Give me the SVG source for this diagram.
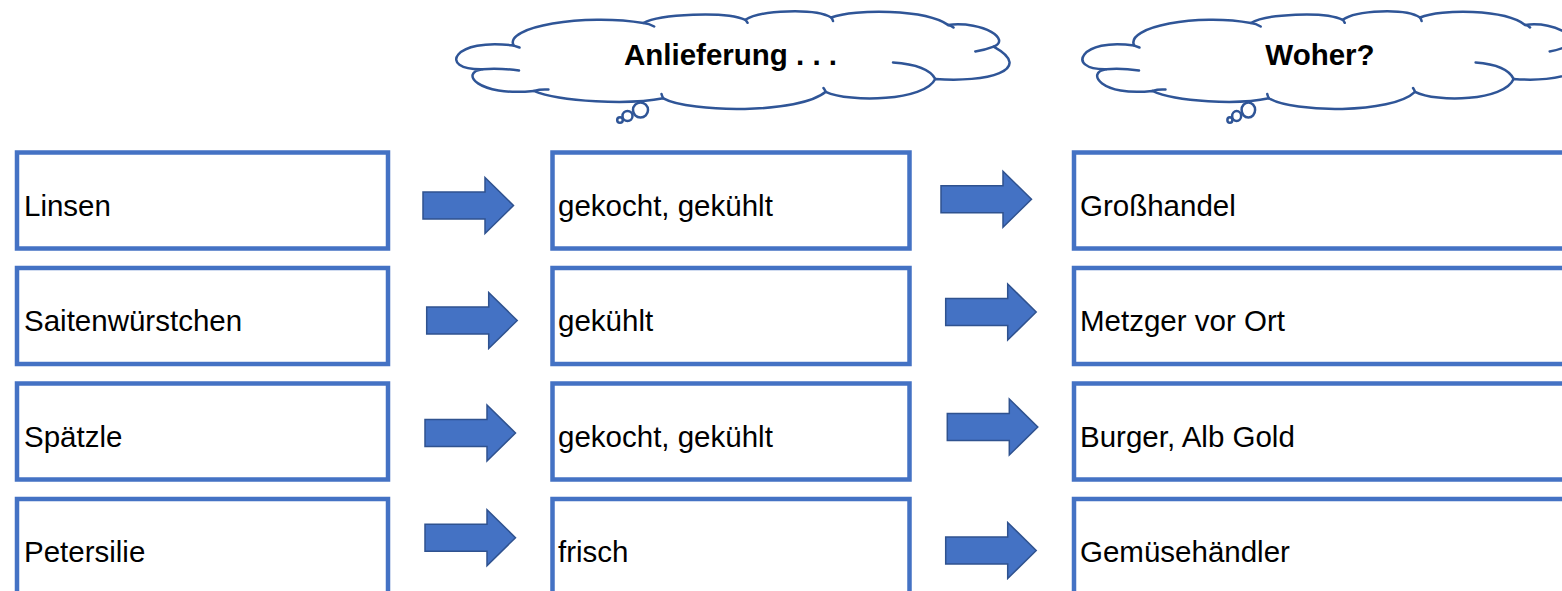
<svg xmlns="http://www.w3.org/2000/svg" xmlns:xlink="http://www.w3.org/1999/xlink" width="1562" height="591" viewBox="0 0 1562 591">
  <defs>
    <style>
      .box { fill: #ffffff; stroke: #4472C4; stroke-width: 4.5; }
      .txt { font-family: "Liberation Sans", Arial, sans-serif; font-size: 29.5px; fill: #000000; }
      .title { font-family: "Liberation Sans", Arial, sans-serif; font-size: 29.5px; font-weight: bold; fill: #000000; text-anchor: middle; }
      .cloud { fill: #ffffff; stroke: #2F5597; stroke-width: 2.5; vector-effect: non-scaling-stroke; stroke-linejoin: round; }
      .cloud-line { fill: none; stroke: #2F5597; stroke-width: 2.5; vector-effect: non-scaling-stroke; stroke-linecap: round; }
      .arrow { fill: #4472C4; stroke: #2F528F; stroke-width: 1.5; stroke-linejoin: miter; }
    </style>
    <!-- thought cloud: outline, inner lobe strokes and trailing bubbles -->
    <g id="cloud-shape">
      <path class="cloud" d="M513.7,45.6 C503,27 585,13 643.3,23 C660,14 725,11 745.4,19.8 C760,10 815,8 831.2,17.5 C855,9 925,9 948,24.9 C985,21 1011,40 993.6,46.6 C1036,70 986,83 935.2,78.9 C925,101 850,103 825.7,91.8 C800,114 690,113 663.3,98.3 C630,105 560,102 533.8,90.9 C477,97 459,72 482.7,69.2 C436,70 454,37 513.7,45.6 Z"/>
      <path class="cloud-line" d="M513.7,45.6 L519.5,47.5 M482.7,69.2 Q500,68 519,70.5 M533.8,90.9 Q541,89 548.4,89.6 M663.3,98.3 Q662,96 661.5,94 M825.7,91.8 Q825,90 823.5,88 M935.2,78.9 Q928,65 893,62.5 M993.6,46.6 Q985,50 975.3,51.4 M948,24.9 Q951,25.5 953.5,27.5 M831.2,17.5 Q832.5,19 833,21 M745.4,19.8 Q746.5,21 747.6,22.8 M643.3,23 Q649,23.5 654.2,26.5"/>
      <ellipse class="cloud" cx="640.5" cy="110" rx="7.5" ry="7.5"/>
      <ellipse class="cloud" cx="627.5" cy="116" rx="5" ry="5"/>
      <ellipse class="cloud" cx="620" cy="120" rx="2.8" ry="2.8"/>
    </g>
    <!-- block arrow, origin at the left end of the shaft centre line -->
    <path id="block-arrow" d="M0,-13.5 H62 V-28 L90.5,0 L62,28 V13.5 H0 Z"/>
  </defs>

  <!-- header clouds -->
  <g id="cloud-delivery">
    <use xlink:href="#cloud-shape"/>
    <text class="title" x="730.5" y="64.5">Anlieferung . . .</text>
  </g>
  <g id="cloud-origin">
    <use xlink:href="#cloud-shape" transform="translate(1085 0) scale(0.9 1) translate(-459 0)"/>
    <text class="title" x="1320" y="64.5">Woher?</text>
  </g>

  <!-- column 1: products -->
  <g id="item-linsen">
    <rect class="box" x="17" y="152.5" width="371" height="96"/>
    <text class="txt" x="24" y="216">Linsen</text>
  </g>
  <g id="item-saitenwuerstchen">
    <rect class="box" x="17" y="268" width="371" height="96"/>
    <text class="txt" x="24" y="331">Saitenwürstchen</text>
  </g>
  <g id="item-spaetzle">
    <rect class="box" x="17" y="383.5" width="371" height="96"/>
    <text class="txt" x="24" y="446.5">Spätzle</text>
  </g>
  <g id="item-petersilie">
    <rect class="box" x="17" y="499" width="371" height="96"/>
    <text class="txt" x="24" y="562">Petersilie</text>
  </g>

  <!-- column 2: delivery state -->
  <g id="delivery-linsen">
    <rect class="box" x="552.5" y="152.5" width="357" height="96"/>
    <text class="txt" x="558" y="216">gekocht, gekühlt</text>
  </g>
  <g id="delivery-saitenwuerstchen">
    <rect class="box" x="552.5" y="268" width="357" height="96"/>
    <text class="txt" x="558" y="331">gekühlt</text>
  </g>
  <g id="delivery-spaetzle">
    <rect class="box" x="552.5" y="383.5" width="357" height="96"/>
    <text class="txt" x="558" y="446.5">gekocht, gekühlt</text>
  </g>
  <g id="delivery-petersilie">
    <rect class="box" x="552.5" y="499" width="357" height="96"/>
    <text class="txt" x="558" y="562">frisch</text>
  </g>

  <!-- column 3: source -->
  <g id="source-linsen">
    <rect class="box" x="1074" y="152.5" width="600" height="96"/>
    <text class="txt" x="1080" y="216">Großhandel</text>
  </g>
  <g id="source-saitenwuerstchen">
    <rect class="box" x="1074" y="268" width="600" height="96"/>
    <text class="txt" x="1080" y="331">Metzger vor Ort</text>
  </g>
  <g id="source-spaetzle">
    <rect class="box" x="1074" y="383.5" width="600" height="96"/>
    <text class="txt" x="1080" y="446.5">Burger, Alb Gold</text>
  </g>
  <g id="source-petersilie">
    <rect class="box" x="1074" y="499" width="600" height="96"/>
    <text class="txt" x="1080" y="562">Gemüsehändler</text>
  </g>

  <!-- connectors -->
  <g id="connectors">
    <use class="arrow" xlink:href="#block-arrow" transform="translate(423 205.5)"/>
    <use class="arrow" xlink:href="#block-arrow" transform="translate(941 199.3)"/>
    <use class="arrow" xlink:href="#block-arrow" transform="translate(426.7 320.5)"/>
    <use class="arrow" xlink:href="#block-arrow" transform="translate(945.7 312)"/>
    <use class="arrow" xlink:href="#block-arrow" transform="translate(425 433)"/>
    <use class="arrow" xlink:href="#block-arrow" transform="translate(947.3 427)"/>
    <use class="arrow" xlink:href="#block-arrow" transform="translate(425 537.7)"/>
    <use class="arrow" xlink:href="#block-arrow" transform="translate(945.7 550.5)"/>
  </g>
</svg>
